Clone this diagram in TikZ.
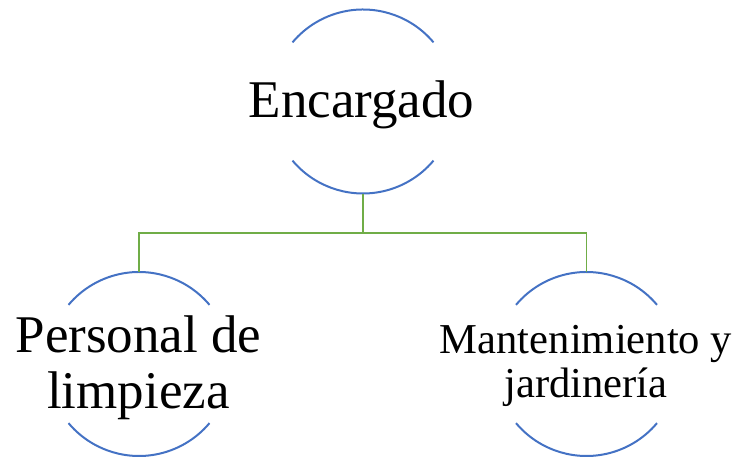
\documentclass[tikz,border=0pt]{standalone}
\usepackage{fontspec}
\setmainfont{Liberation Serif}
\usetikzlibrary{calc}
\definecolor{arcblue}{HTML}{4472C4}
\definecolor{conngreen}{HTML}{70AD47}
\tikzset{
  ring/.style={circle, minimum size=184pt, inner sep=0pt, draw=none},
  arcline/.style={draw=arcblue, line width=2pt},
  conn/.style={draw=conngreen, line width=1.8pt},
  bigtext/.style={inner sep=0pt, align=center, font=\fontsize{53}{56}\selectfont},
  smalltext/.style={inner sep=0pt, align=center, font=\fontsize{42.6}{44}\selectfont}
}
\begin{document}
\begin{tikzpicture}[x=1pt,y=1pt]
\useasboundingbox (0,0) rectangle (733,457);
\node[ring] (enc) at (363,355.5) {};
\node[ring] (per) at (139,93) {};
\node[ring] (man) at (586.5,93) {};
\foreach \c in {enc,per,man}{
  \draw[arcline] (\c.center) ++(40:92) arc[start angle=40, end angle=140, radius=92];
  \draw[arcline] (\c.center) ++(220:92) arc[start angle=220, end angle=320, radius=92];
}
\node[bigtext, anchor=base] (tenc) at (361.5,339) {Encargado};
\node[bigtext] (tper) at (138.5,89) {Personal de\\limpieza};
\node[smalltext] (tman) at (586,91) {Mantenimiento y\\jardinería};
\coordinate (bus) at ($(enc.south)+(0,-39)$);
\draw[conn] (enc.south) -- (bus) -| (per.north);
\draw[conn] (bus) -| (man.north);
\end{tikzpicture}
\end{document}
